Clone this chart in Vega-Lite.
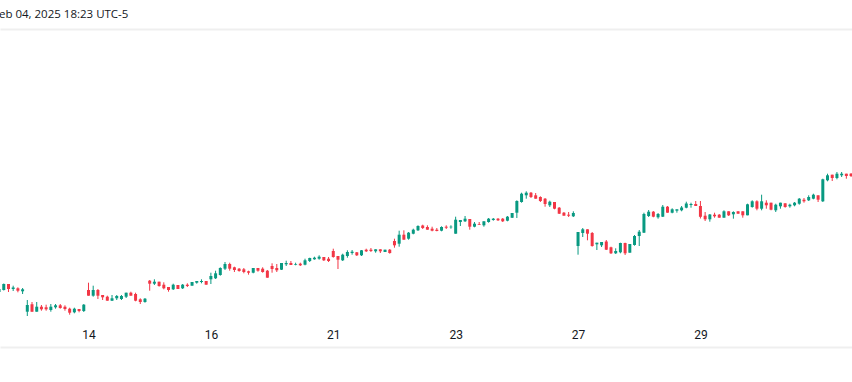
{
  "$schema": "https://vega.github.io/schema/vega-lite/v6.json",
  "autosize": {"type": "none"},
  "padding": {"top": 29, "left": 0, "right": 0, "bottom": 35},
  "width": 852,
  "height": 318,
  "background": "#ffffff",
  "config": {"view": {"stroke": null}},
  "title": {"text": "Feb 04, 2025 18:23 UTC-5", "anchor": "start", "frame": "group", "orient": "top", "baseline": "middle", "offset": 3, "dx": -7, "font": "Open Sans", "fontSize": 11.5, "fontWeight": "normal", "color": "#131722"},
  "data": {"values": [
    {"i":-6,"o":120.8,"h":121.2,"l":120.7,"c":121.1},
    {"i":-5,"o":121.0,"h":121.65,"l":120.95,"c":121.6},
    {"i":-4,"o":121.6,"h":121.6,"l":120.8,"c":121.1},
    {"i":-3,"o":121.1,"h":121.43,"l":120.9,"c":121.25},
    {"i":-2,"o":121.17,"h":121.27,"l":120.77,"c":120.93},
    {"i":-1,"o":120.87,"h":121.2,"l":120.6,"c":121.07},
    {"i":0,"o":118.83,"h":120.0,"l":118.4,"c":119.5},
    {"i":1,"o":119.57,"h":119.8,"l":118.83,"c":118.83},
    {"i":2,"o":118.83,"h":119.8,"l":118.83,"c":119.33},
    {"i":3,"o":119.33,"h":119.5,"l":118.93,"c":119.07},
    {"i":4,"o":119.27,"h":119.53,"l":118.93,"c":119.07},
    {"i":5,"o":119.0,"h":119.6,"l":118.83,"c":119.33},
    {"i":6,"o":119.27,"h":119.6,"l":119.13,"c":119.47},
    {"i":7,"o":119.47,"h":119.6,"l":119.13,"c":119.2},
    {"i":8,"o":119.33,"h":119.47,"l":118.93,"c":119.1},
    {"i":9,"o":119.13,"h":119.23,"l":118.53,"c":118.73},
    {"i":10,"o":118.77,"h":119.23,"l":118.67,"c":119.13},
    {"i":11,"o":119.1,"h":119.1,"l":118.77,"c":118.9},
    {"i":12,"o":118.9,"h":119.6,"l":118.8,"c":119.53},
    {"i":13,"o":121.0,"h":121.73,"l":120.43,"c":120.43},
    {"i":14,"o":120.43,"h":121.43,"l":120.33,"c":121.0},
    {"i":15,"o":121.0,"h":121.1,"l":120.1,"c":120.43},
    {"i":16,"o":120.5,"h":120.5,"l":120.0,"c":120.27},
    {"i":17,"o":120.33,"h":120.43,"l":119.93,"c":119.93},
    {"i":18,"o":119.93,"h":120.5,"l":119.9,"c":120.17},
    {"i":19,"o":120.17,"h":120.5,"l":120.0,"c":120.4},
    {"i":20,"o":120.1,"h":120.5,"l":120.0,"c":120.4},
    {"i":21,"o":120.33,"h":120.73,"l":120.2,"c":120.73},
    {"i":22,"o":120.73,"h":120.83,"l":120.43,"c":120.43},
    {"i":23,"o":120.6,"h":120.73,"l":119.87,"c":119.93},
    {"i":24,"o":120.07,"h":120.17,"l":119.6,"c":119.8},
    {"i":25,"o":119.8,"h":120.2,"l":119.73,"c":120.13},
    {"i":26,"o":121.93,"h":122.0,"l":120.93,"c":121.63},
    {"i":27,"o":121.63,"h":122.07,"l":121.5,"c":121.83},
    {"i":28,"o":121.83,"h":121.83,"l":121.33,"c":121.4},
    {"i":29,"o":121.53,"h":121.77,"l":121.07,"c":121.17},
    {"i":30,"o":121.3,"h":121.3,"l":120.83,"c":121.0},
    {"i":31,"o":121.07,"h":121.63,"l":121.0,"c":121.53},
    {"i":32,"o":121.5,"h":121.5,"l":121.1,"c":121.1},
    {"i":33,"o":121.17,"h":121.6,"l":121.1,"c":121.53},
    {"i":34,"o":121.53,"h":121.67,"l":121.3,"c":121.4},
    {"i":35,"o":121.43,"h":121.8,"l":121.43,"c":121.8},
    {"i":36,"o":121.73,"h":121.9,"l":121.63,"c":121.9},
    {"i":37,"o":121.8,"h":122.07,"l":121.67,"c":121.9},
    {"i":38,"o":121.9,"h":121.9,"l":121.53,"c":121.53},
    {"i":39,"o":122.07,"h":122.73,"l":121.6,"c":122.4},
    {"i":40,"o":122.17,"h":122.93,"l":122.1,"c":122.67},
    {"i":41,"o":122.5,"h":123.27,"l":122.43,"c":123.2},
    {"i":42,"o":123.13,"h":123.8,"l":123.0,"c":123.6},
    {"i":43,"o":123.6,"h":123.73,"l":122.93,"c":123.13},
    {"i":44,"o":123.27,"h":123.33,"l":122.8,"c":123.0},
    {"i":45,"o":123.13,"h":123.2,"l":122.83,"c":122.9},
    {"i":46,"o":123.07,"h":123.2,"l":122.67,"c":122.8},
    {"i":47,"o":122.87,"h":122.93,"l":122.53,"c":122.73},
    {"i":48,"o":122.73,"h":123.2,"l":122.67,"c":123.2},
    {"i":49,"o":123.2,"h":123.2,"l":122.83,"c":122.93},
    {"i":50,"o":123.13,"h":123.27,"l":122.73,"c":122.8},
    {"i":51,"o":122.93,"h":123.0,"l":122.23,"c":122.23},
    {"i":52,"o":123.4,"h":123.67,"l":122.73,"c":123.1},
    {"i":53,"o":123.2,"h":123.6,"l":122.8,"c":122.97},
    {"i":54,"o":123.03,"h":123.7,"l":123.0,"c":123.7},
    {"i":55,"o":123.57,"h":123.93,"l":123.4,"c":123.7},
    {"i":56,"o":123.7,"h":123.9,"l":123.5,"c":123.5},
    {"i":57,"o":123.53,"h":123.73,"l":123.47,"c":123.6},
    {"i":58,"o":123.63,"h":123.73,"l":123.4,"c":123.47},
    {"i":59,"o":123.53,"h":124.13,"l":123.47,"c":123.97},
    {"i":60,"o":123.9,"h":124.23,"l":123.8,"c":124.2},
    {"i":61,"o":124.07,"h":124.33,"l":124.03,"c":124.23},
    {"i":62,"o":124.13,"h":124.47,"l":124.03,"c":124.33},
    {"i":63,"o":124.3,"h":124.3,"l":123.9,"c":123.97},
    {"i":64,"o":124.13,"h":124.3,"l":123.8,"c":123.9},
    {"i":65,"o":124.9,"h":125.13,"l":124.23,"c":124.3},
    {"i":66,"o":124.4,"h":124.4,"l":123.1,"c":124.03},
    {"i":67,"o":123.97,"h":124.63,"l":123.9,"c":124.53},
    {"i":68,"o":124.4,"h":124.97,"l":124.23,"c":124.8},
    {"i":69,"o":124.7,"h":125.0,"l":124.53,"c":124.83},
    {"i":70,"o":124.77,"h":124.8,"l":124.4,"c":124.47},
    {"i":71,"o":124.47,"h":125.0,"l":124.4,"c":124.97},
    {"i":72,"o":125.03,"h":125.13,"l":124.8,"c":124.87},
    {"i":73,"o":125.03,"h":125.2,"l":124.8,"c":124.9},
    {"i":74,"o":124.87,"h":125.07,"l":124.73,"c":125.07},
    {"i":75,"o":125.07,"h":125.07,"l":124.7,"c":124.87},
    {"i":76,"o":124.8,"h":125.03,"l":124.8,"c":125.03},
    {"i":77,"o":125.03,"h":125.1,"l":124.63,"c":124.7},
    {"i":78,"o":125.9,"h":126.13,"l":125.23,"c":125.47},
    {"i":79,"o":125.63,"h":126.93,"l":125.33,"c":126.53},
    {"i":80,"o":126.53,"h":126.97,"l":126.03,"c":126.03},
    {"i":81,"o":126.13,"h":126.8,"l":126.03,"c":126.73},
    {"i":82,"o":126.63,"h":127.13,"l":126.57,"c":127.03},
    {"i":83,"o":126.97,"h":127.47,"l":126.9,"c":127.4},
    {"i":84,"o":127.45,"h":127.53,"l":127.1,"c":127.2},
    {"i":85,"o":127.3,"h":127.47,"l":127.03,"c":127.03},
    {"i":86,"o":127.13,"h":127.33,"l":126.87,"c":126.93},
    {"i":87,"o":127.03,"h":127.2,"l":126.87,"c":126.9},
    {"i":88,"o":126.93,"h":127.37,"l":126.87,"c":127.3},
    {"i":89,"o":127.33,"h":127.47,"l":127.1,"c":127.23},
    {"i":90,"o":127.27,"h":127.47,"l":127.13,"c":127.33},
    {"i":91,"o":126.63,"h":128.33,"l":126.63,"c":128.03},
    {"i":92,"o":127.8,"h":128.0,"l":127.4,"c":128.0},
    {"i":93,"o":127.87,"h":128.4,"l":127.8,"c":128.13},
    {"i":94,"o":128.1,"h":128.1,"l":127.03,"c":127.33},
    {"i":95,"o":127.33,"h":127.8,"l":127.27,"c":127.63},
    {"i":96,"o":127.57,"h":127.8,"l":127.5,"c":127.5},
    {"i":97,"o":127.47,"h":127.87,"l":127.33,"c":127.87},
    {"i":98,"o":127.8,"h":128.2,"l":127.73,"c":128.13},
    {"i":99,"o":128.0,"h":128.2,"l":127.93,"c":128.13},
    {"i":100,"o":128.13,"h":128.2,"l":127.9,"c":127.97},
    {"i":101,"o":128.13,"h":128.2,"l":127.8,"c":127.87},
    {"i":102,"o":127.93,"h":128.4,"l":127.87,"c":128.33},
    {"i":103,"o":128.23,"h":128.7,"l":128.2,"c":128.7},
    {"i":104,"o":128.73,"h":129.97,"l":128.2,"c":129.9},
    {"i":105,"o":129.8,"h":130.73,"l":129.73,"c":130.63},
    {"i":106,"o":130.47,"h":130.87,"l":130.13,"c":130.73},
    {"i":107,"o":130.73,"h":130.8,"l":130.2,"c":130.3},
    {"i":108,"o":130.47,"h":130.7,"l":130.13,"c":130.13},
    {"i":109,"o":130.3,"h":130.37,"l":129.8,"c":129.9},
    {"i":110,"o":130.13,"h":130.2,"l":129.33,"c":129.6},
    {"i":111,"o":129.47,"h":129.93,"l":129.3,"c":129.83},
    {"i":112,"o":129.8,"h":129.8,"l":129.07,"c":129.13},
    {"i":113,"o":129.23,"h":129.3,"l":128.6,"c":128.63},
    {"i":114,"o":128.73,"h":128.8,"l":128.43,"c":128.43},
    {"i":115,"o":128.53,"h":128.8,"l":128.3,"c":128.43},
    {"i":116,"o":128.37,"h":128.87,"l":128.3,"c":128.7},
    {"i":117,"o":125.4,"h":126.8,"l":124.53,"c":126.8},
    {"i":118,"o":126.7,"h":127.2,"l":126.3,"c":127.07},
    {"i":119,"o":127.07,"h":127.07,"l":125.97,"c":126.63},
    {"i":120,"o":126.7,"h":126.8,"l":125.33,"c":125.4},
    {"i":121,"o":125.57,"h":125.73,"l":125.0,"c":125.73},
    {"i":122,"o":125.47,"h":125.8,"l":125.3,"c":125.8},
    {"i":123,"o":125.85,"h":126.0,"l":125.0,"c":125.03},
    {"i":124,"o":125.27,"h":125.33,"l":124.6,"c":124.67},
    {"i":125,"o":124.67,"h":125.17,"l":124.6,"c":124.9},
    {"i":126,"o":124.77,"h":125.73,"l":124.67,"c":125.7},
    {"i":127,"o":125.7,"h":125.73,"l":124.5,"c":124.67},
    {"i":128,"o":124.73,"h":125.6,"l":124.73,"c":125.6},
    {"i":129,"o":125.5,"h":126.5,"l":125.43,"c":126.4},
    {"i":130,"o":126.4,"h":127.0,"l":125.4,"c":126.83},
    {"i":131,"o":126.73,"h":128.73,"l":126.7,"c":128.6},
    {"i":132,"o":128.4,"h":129.0,"l":128.3,"c":128.83},
    {"i":133,"o":128.83,"h":128.9,"l":128.27,"c":128.33},
    {"i":134,"o":128.27,"h":128.7,"l":128.13,"c":128.6},
    {"i":135,"o":128.33,"h":129.5,"l":128.3,"c":129.33},
    {"i":136,"o":129.33,"h":129.4,"l":128.73,"c":128.73},
    {"i":137,"o":128.73,"h":129.17,"l":128.67,"c":129.07},
    {"i":138,"o":128.93,"h":129.07,"l":128.73,"c":129.07},
    {"i":139,"o":128.97,"h":129.4,"l":128.87,"c":129.25},
    {"i":140,"o":129.23,"h":129.83,"l":129.17,"c":129.65},
    {"i":141,"o":129.5,"h":129.73,"l":129.23,"c":129.6},
    {"i":142,"o":129.6,"h":129.9,"l":129.4,"c":129.4},
    {"i":143,"o":129.4,"h":129.9,"l":128.15,"c":128.32},
    {"i":144,"o":128.43,"h":128.8,"l":127.9,"c":128.07},
    {"i":145,"o":128.07,"h":128.6,"l":127.83,"c":128.55},
    {"i":146,"o":128.53,"h":128.73,"l":128.23,"c":128.37},
    {"i":147,"o":128.53,"h":128.6,"l":128.23,"c":128.23},
    {"i":148,"o":128.23,"h":128.97,"l":128.23,"c":128.87},
    {"i":149,"o":128.87,"h":128.87,"l":128.4,"c":128.47},
    {"i":150,"o":128.57,"h":128.87,"l":128.13,"c":128.8},
    {"i":151,"o":128.87,"h":128.87,"l":128.63,"c":128.63},
    {"i":152,"o":128.87,"h":128.87,"l":128.23,"c":128.47},
    {"i":153,"o":128.47,"h":129.63,"l":128.47,"c":129.57},
    {"i":154,"o":129.3,"h":129.97,"l":129.23,"c":129.87},
    {"i":155,"o":129.87,"h":129.97,"l":128.97,"c":129.13},
    {"i":156,"o":129.13,"h":130.53,"l":128.97,"c":129.87},
    {"i":157,"o":129.73,"h":129.97,"l":129.13,"c":129.47},
    {"i":158,"o":129.73,"h":129.73,"l":128.97,"c":129.03},
    {"i":159,"o":128.97,"h":129.63,"l":128.8,"c":129.53},
    {"i":160,"o":129.37,"h":129.73,"l":129.13,"c":129.73},
    {"i":161,"o":129.67,"h":129.67,"l":129.23,"c":129.3},
    {"i":162,"o":129.37,"h":129.63,"l":129.23,"c":129.53},
    {"i":163,"o":129.47,"h":129.8,"l":129.37,"c":129.73},
    {"i":164,"o":129.63,"h":130.2,"l":129.53,"c":130.13},
    {"i":165,"o":130.03,"h":130.2,"l":129.73,"c":129.87},
    {"i":166,"o":129.97,"h":130.47,"l":129.9,"c":130.3},
    {"i":167,"o":130.13,"h":130.63,"l":130.07,"c":130.53},
    {"i":168,"o":130.47,"h":130.47,"l":129.8,"c":130.03},
    {"i":169,"o":129.87,"h":132.13,"l":129.8,"c":132.07},
    {"i":170,"o":131.97,"h":132.63,"l":131.87,"c":132.47},
    {"i":171,"o":132.53,"h":132.53,"l":131.9,"c":132.2},
    {"i":172,"o":132.2,"h":132.8,"l":132.07,"c":132.63},
    {"i":173,"o":132.47,"h":132.8,"l":132.3,"c":132.63},
    {"i":174,"o":132.63,"h":132.63,"l":132.13,"c":132.4},
    {"i":175,"o":132.63,"h":132.7,"l":132.3,"c":132.4}
  ]},
  "encoding": {
    "x": {"field": "i", "type": "quantitative", "title": null,
      "scale": {"domain": [-5.8, 175.2], "nice": false, "zero": false, "padding": 0},
      "axis": {"values": [13, 39, 65, 91, 117, 143], "domain": false, "ticks": false, "tickSize": 0, "grid": false,
        "labelPadding": -13, "labelBaseline": "middle", "labelFlush": false, "labelOverlap": false,
        "labelFont": "Roboto", "labelFontSize": 12, "labelColor": "#131722",
        "labelExpr": "datum.value == 13 ? '14' : datum.value == 39 ? '16' : datum.value == 65 ? '21' : datum.value == 91 ? '23' : datum.value == 117 ? '27' : '29'"}},
    "color": {"condition": {"test": "datum.c >= datum.o", "value": "#089981"}, "value": "#F23645"}
  },
  "layer": [
    {"mark": {"type": "rule", "strokeWidth": 1, "clip": true},
     "encoding": {
       "y": {"field": "l", "type": "quantitative", "title": null,
         "scale": {"domain": [115.3, 147.1], "nice": false, "zero": false, "padding": 0},
         "axis": {"values": [115.3, 147.1], "grid": true, "gridColor": "#efefef", "gridWidth": 2, "labels": false, "ticks": false, "domain": false}},
       "y2": {"field": "h"}
     }},
    {"mark": {"type": "bar", "size": 3, "clip": true},
     "encoding": {
       "y": {"field": "o", "type": "quantitative"},
       "y2": {"field": "c"}
     }}
  ]
}
